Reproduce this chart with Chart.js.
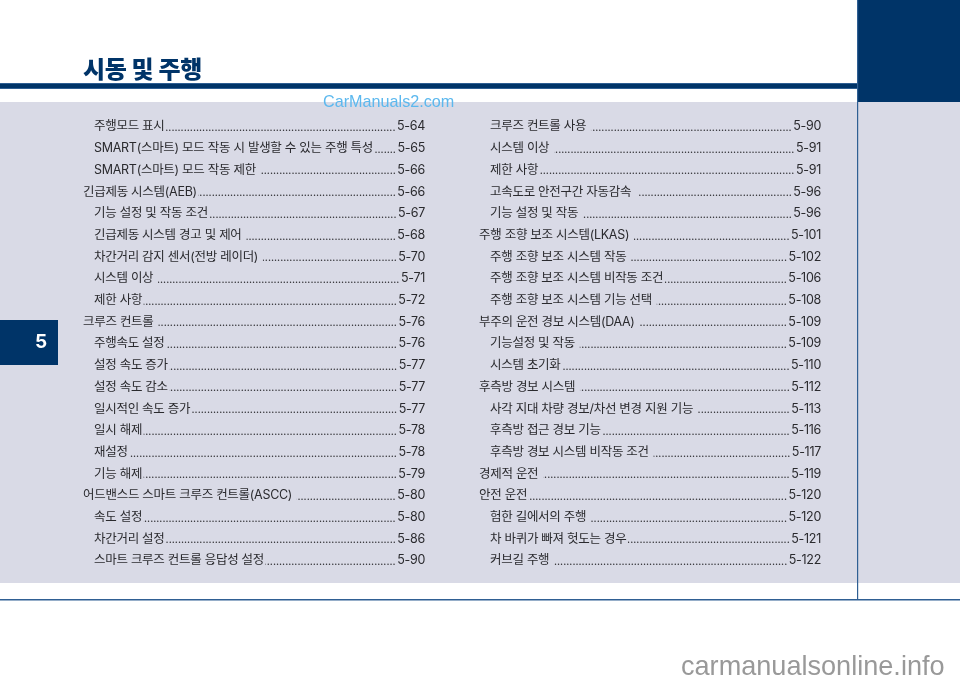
<!DOCTYPE html>
<html lang="ko"><head><meta charset="utf-8">
<style>html,body{margin:0;padding:0;background:#fff}canvas{display:block}</style>
<script src="https://cdn.jsdelivr.net/npm/chart.js@4/dist/chart.umd.min.js"></script>
</head><body><canvas id="c" width="960" height="685" style="width:960px;height:685px"></canvas>
<script>
const heading = "시동 및 주행";
const chapter = "5";
const watermarkTop = "CarManuals2.com";
const watermarkBottom = "carmanualsonline.info";
const leftLabels = ["주행모드 표시","SMART(스마트) 모드 작동 시 발생할 수 있는 주행 특성","SMART(스마트) 모드 작동 제한 ","긴급제동 시스템(AEB)","기능 설정 및 작동 조건","긴급제동 시스템 경고 및 제어 ","차간거리 감지 센서(전방 레이더) ","시스템 이상 ","제한 사항","크루즈 컨트롤 ","주행속도 설정","설정 속도 증가","설정 속도 감소","일시적인 속도 증가","일시 해제","재설정","기능 해제","어드밴스드 스마트 크루즈 컨트롤(ASCC) ","속도 설정","차간거리 설정","스마트 크루즈 컨트롤 응답성 설정"];
const leftPages = ["5-64","5-65","5-66","5-66","5-67","5-68","5-70","5-71","5-72","5-76","5-76","5-77","5-77","5-77","5-78","5-78","5-79","5-80","5-80","5-86","5-90"];
const leftLevels = [1,1,1,0,1,1,1,1,1,0,1,1,1,1,1,1,1,0,1,1,1];
const rightLabels = ["크루즈 컨트롤 사용 ","시스템 이상 ","제한 사항","고속도로 안전구간 자동감속  ","기능 설정 및 작동 ","주행 조향 보조 시스템(LKAS) ","주행 조향 보조 시스템 작동 ","주행 조향 보조 시스템 비작동 조건","주행 조향 보조 시스템 기능 선택 ","부주의 운전 경보 시스템(DAA) ","기능설정 및 작동 ","시스템 초기화","후측방 경보 시스템 ","사각 지대 차량 경보/차선 변경 지원 기능 ","후측방 접근 경보 기능","후측방 경보 시스템 비작동 조건 ","경제적 운전 ","안전 운전","험한 길에서의 주행 ","차 바퀴가 빠져 헛도는 경우","커브길 주행 "];
const rightPages = ["5-90","5-91","5-91","5-96","5-96","5-101","5-102","5-106","5-108","5-109","5-109","5-110","5-112","5-113","5-116","5-117","5-119","5-120","5-120","5-121","5-122"];
const rightLevels = [1,1,1,1,1,0,1,1,1,0,1,1,0,1,1,1,0,0,1,1,1];

const NAVY="#003468", LINE="#2f5f93", PANEL="#d9dae6", INK="#2a2a2e";
const FONT='Inter,"Noto Sans CJK KR","Noto Sans",sans-serif';
const CJK='"Noto Sans CJK KR","Noto Sans",sans-serif';
const pts = (levels)=>levels.map((l,i)=>({x:l,y:i}));

const tocPlugin = {
  id:"toc",
  beforeDraw(ch){
    const c=ch.ctx;
    c.save();
    c.fillStyle="#fff";c.fillRect(0,0,960,685);
    c.fillStyle=PANEL;c.fillRect(0,102,960,481);
    c.fillStyle=LINE;c.fillRect(0,83,857,6);
    c.fillStyle=NAVY;c.fillRect(0,84,857,4);
    c.fillStyle=NAVY;c.fillRect(858,0,102,102);
    c.fillStyle=LINE;c.fillRect(857,0,1.2,600);
    c.fillRect(0,599,960,1.5);
    c.fillStyle=NAVY;c.fillRect(0,320,58,45);
    c.textBaseline="middle";
    c.fillStyle="#fff";c.textAlign="center";c.font='bold 19px '+FONT;
    c.fillText(chapter,41,342);
    c.textAlign="left";c.fillStyle=NAVY;c.font='900 24px '+CJK;
    c.letterSpacing="-0.35px";
    c.fillText(heading,83,69);
    c.restore();
  },
  afterDatasetsDraw(ch){
    const c=ch.ctx;
    ch.data.datasets.forEach((ds,di)=>{
      const meta=ch.getDatasetMeta(di);
      const isLeft=di===0;
      const top=isLeft?83:479, indent=isLeft?94:490, right=isLeft?425:821;
      meta.data.forEach((el,i)=>{
        const lab=(isLeft?leftLabels:rightLabels)[i], pg=(isLeft?leftPages:rightPages)[i];
        const x=(ds.data[i].x?indent:top), y=el.y+0.7;
        c.save();
        c.textBaseline="middle";c.fillStyle=INK;c.font='12.5px '+FONT;
        c.letterSpacing="-0.28px";
        c.textAlign="left";c.fillText(lab,x,y);
        const w=c.measureText(lab).width;
        c.textAlign="right";c.fillText(pg,right,y);
        const pw=c.measureText(pg).width;
        c.letterSpacing="0px";
        const xs=x+w+1.5, xe=right-pw-1.5;
        c.beginPath();c.rect(xs,y-10,xe-xs,20);c.clip();
        c.textBaseline="alphabetic";c.textAlign="right";c.font='11px '+CJK;
        c.fillText(".".repeat(200),xe,y+4.3);
        c.restore();
      });
    });
    c.save();
    c.textBaseline="middle";c.textAlign="left";
    c.fillStyle="#5cb8ee";c.font='16.2px "Liberation Sans",sans-serif';
    c.fillText(watermarkTop,323,103);
    c.fillStyle="#999";c.font='27.1px "Liberation Sans",sans-serif';
    c.fillText(watermarkBottom,681,668);
    c.restore();
  }
};

new Chart(document.getElementById("c"),{
  type:"scatter",
  data:{datasets:[
    {label:"left",data:pts(leftLevels),pointRadius:0},
    {label:"right",data:pts(rightLevels),pointRadius:0}
  ]},
  options:{
    responsive:false,animation:false,devicePixelRatio:1,
    layout:{padding:0},
    plugins:{legend:{display:false},tooltip:{enabled:false},title:{display:false}},
    scales:{
      x:{type:"linear",display:false,min:-1,max:2},
      y:{type:"linear",display:false,reverse:true,min:-126/21.7,max:(685-126)/21.7}
    }
  },
  plugins:[tocPlugin]
});
</script>
</body></html>
